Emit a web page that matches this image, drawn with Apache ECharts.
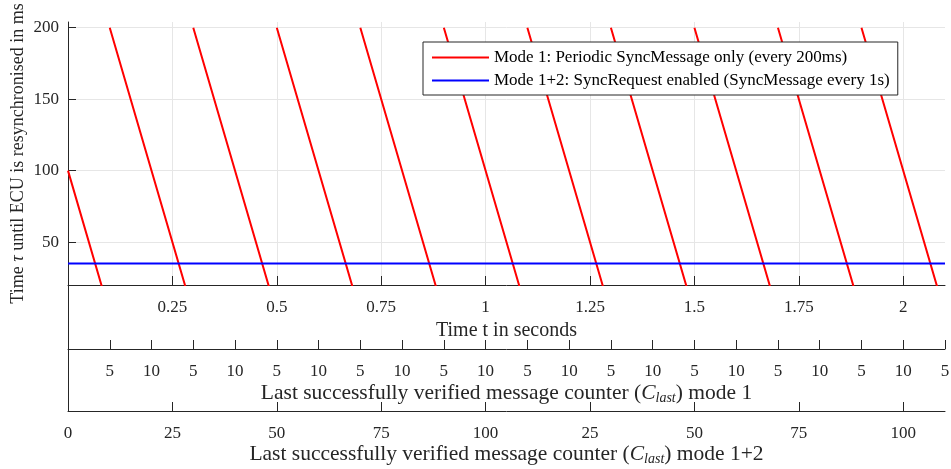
<!DOCTYPE html>
<html>
<head>
<meta charset="utf-8">
<script src="https://cdn.jsdelivr.net/npm/echarts@6/dist/echarts.min.js"></script>
<style>
html, body { margin: 0; padding: 0; background: #fff; }
#chart { width: 951px; height: 469px; }
</style>
</head>
<body>
<div id="chart"></div>
<script>
// Mode 1: one falling segment per 200ms SyncMessage period (t in s, tau in ms)
const mode1Start = [0, 0.1, 0.3, 0.5, 0.7, 0.9, 1.1, 1.3, 1.5, 1.7, 1.9]
const mode1StartTau = [100, 200, 200, 200, 200, 200, 200, 200, 200, 200, 200]
const mode1End = [0.1, 0.3, 0.5, 0.7, 0.9, 1.1, 1.3, 1.5, 1.7, 1.9, 2.1]
const mode1EndTau = [0, 0, 0, 0, 0, 0, 0, 0, 0, 0, 0]

// Mode 1+2: constant resync time
const mode2Time = [0, 2.1]
const mode2Tau = [35, 35]

const yTicks = [50, 100, 150, 200]
const timeTicks = [0.25, 0.5, 0.75, 1, 1.25, 1.5, 1.75, 2]
const timeLabels = ['0.25', '0.5', '0.75', '1', '1.25', '1.5', '1.75', '2']
const counter1Ticks = [0.1, 0.2, 0.3, 0.4, 0.5, 0.6, 0.7, 0.8, 0.9, 1, 1.1, 1.2, 1.3, 1.4, 1.5, 1.6, 1.7, 1.8, 1.9, 2, 2.1]
const counter1Labels = ['5', '10', '5', '10', '5', '10', '5', '10', '5', '10', '5', '10', '5', '10', '5', '10', '5', '10', '5', '10', '5']
const counter2Ticks = [0, 0.25, 0.5, 0.75, 1, 1.25, 1.5, 1.75, 2]
const counter2Labels = ['0', '25', '50', '75', '100', '25', '50', '75', '100']

const FONT = 'Liberation Serif'
const TXT = '#262626'
const AXIS = '#262626'
const GRIDLINE = '#e6e6e6'

const mode1Data = []
mode1Start.forEach((t, i) => {
  mode1Data.push([t, mode1StartTau[i]])
  mode1Data.push([mode1End[i], mode1EndTau[i]])
  mode1Data.push(['-', '-'])
})
const mode2Data = mode2Time.map((t, i) => [t, mode2Tau[i]])

function lookup(ticks, labels) {
  return function (v) {
    const i = ticks.findIndex((x) => Math.abs(x - v) < 1e-6)
    return i < 0 ? '' : labels[i]
  }
}

function richName(size) {
  return {
    i: { fontFamily: FONT, fontSize: size, fontStyle: 'italic', color: TXT, lineHeight: 24, verticalAlign: 'middle' },
    sub: { fontFamily: FONT, fontSize: 14, fontStyle: 'italic', color: TXT, lineHeight: 14, verticalAlign: 'bottom' }
  }
}

function bottomAxis(gridIndex, ticks, labels, labelTicks, name, gap, size, split) {
  return {
    type: 'value',
    gridIndex: gridIndex,
    min: 0,
    max: 2.1,
    position: 'bottom',
    name: name,
    nameLocation: 'middle',
    nameGap: gap,
    nameMoveOverlap: false,
    nameTextStyle: { fontFamily: FONT, fontSize: size, color: TXT, lineHeight: 24, rich: richName(size) },
    axisLine: { show: true, lineStyle: { color: AXIS, width: 1 } },
    axisTick: { show: true, inside: true, length: 9, customValues: ticks, lineStyle: { color: AXIS } },
    axisLabel: {
      show: true,
      customValues: labelTicks,
      margin: 14,
      fontFamily: FONT,
      fontSize: 17,
      color: TXT,
      formatter: lookup(labelTicks, labels)
    },
    splitLine: { show: split, lineStyle: { color: GRIDLINE, width: 1 } }
  }
}

function blankY(gridIndex) {
  return {
    type: 'value',
    gridIndex: gridIndex,
    min: 0,
    max: 1,
    axisLine: { show: true, lineStyle: { color: AXIS, width: 1 } },
    axisTick: { show: false },
    axisLabel: { show: false },
    splitLine: { show: false }
  }
}

const chart = echarts.init(document.getElementById('chart'))
chart.setOption({
  animation: false,
  backgroundColor: '#fff',
  grid: [
    { left: 68, right: 6, top: 22, height: 263, containLabel: false, outerBoundsMode: 'none' },
    { left: 68, right: 6, top: 285, height: 64, containLabel: false, outerBoundsMode: 'none' },
    { left: 68, right: 6, top: 349, height: 62, containLabel: false, outerBoundsMode: 'none' }
  ],
  legend: {
    orient: 'vertical',
    left: 423,
    top: 42,
    padding: [7, 8, 6, 8],
    itemWidth: 57,
    itemHeight: 14,
    itemGap: 6,
    itemStyle: { opacity: 0 },
    backgroundColor: '#fff',
    borderColor: '#262626',
    borderWidth: 1,
    borderRadius: 0,
    textStyle: { fontFamily: FONT, fontSize: 17, lineHeight: 17, color: '#000' },
    data: [
      'Mode 1: Periodic SyncMessage only (every 200ms)',
      'Mode 1+2: SyncRequest enabled (SyncMessage every 1s)'
    ]
  },
  xAxis: [
    bottomAxis(0, timeTicks, timeLabels, timeTicks, 'Time t in seconds', 34, 20, true),
    bottomAxis(1, counter1Ticks, counter1Labels, counter1Ticks,
      'Last successfully verified message counter ({i|C}{sub|last}) mode 1', 32, 21.5, false),
    bottomAxis(2, counter2Ticks.slice(1), counter2Labels, counter2Ticks,
      'Last successfully verified message counter ({i|C}{sub|last}) mode 1+2', 31, 21.5, false)
  ],
  yAxis: [
    {
      type: 'value',
      gridIndex: 0,
      min: 20,
      max: 204,
      name: 'Time {i|τ} until ECU is resynchronised in ms',
      nameLocation: 'middle',
      nameGap: 38,
      nameMoveOverlap: false,
      nameTextStyle: { fontFamily: FONT, fontSize: 18, color: TXT, lineHeight: 24, rich: richName(18) },
      axisLine: { show: true, lineStyle: { color: AXIS, width: 1 } },
      axisTick: { show: true, inside: true, length: 8, customValues: yTicks, lineStyle: { color: AXIS } },
      axisLabel: { customValues: yTicks, margin: 9, fontFamily: FONT, fontSize: 17, color: TXT },
      splitLine: { show: true, lineStyle: { color: GRIDLINE, width: 1 } }
    },
    blankY(1),
    blankY(2)
  ],
  series: [
    {
      name: 'Mode 1: Periodic SyncMessage only (every 200ms)',
      type: 'line',
      xAxisIndex: 0,
      yAxisIndex: 0,
      data: mode1Data,
      symbol: 'none',
      connectNulls: false,
      lineStyle: { color: '#ff0000', width: 2 },
      itemStyle: { color: '#ff0000' }
    },
    {
      name: 'Mode 1+2: SyncRequest enabled (SyncMessage every 1s)',
      type: 'line',
      xAxisIndex: 0,
      yAxisIndex: 0,
      data: mode2Data,
      symbol: 'none',
      lineStyle: { color: '#0000ff', width: 2 },
      itemStyle: { color: '#0000ff' }
    }
  ]
})
</script>
</body>
</html>
